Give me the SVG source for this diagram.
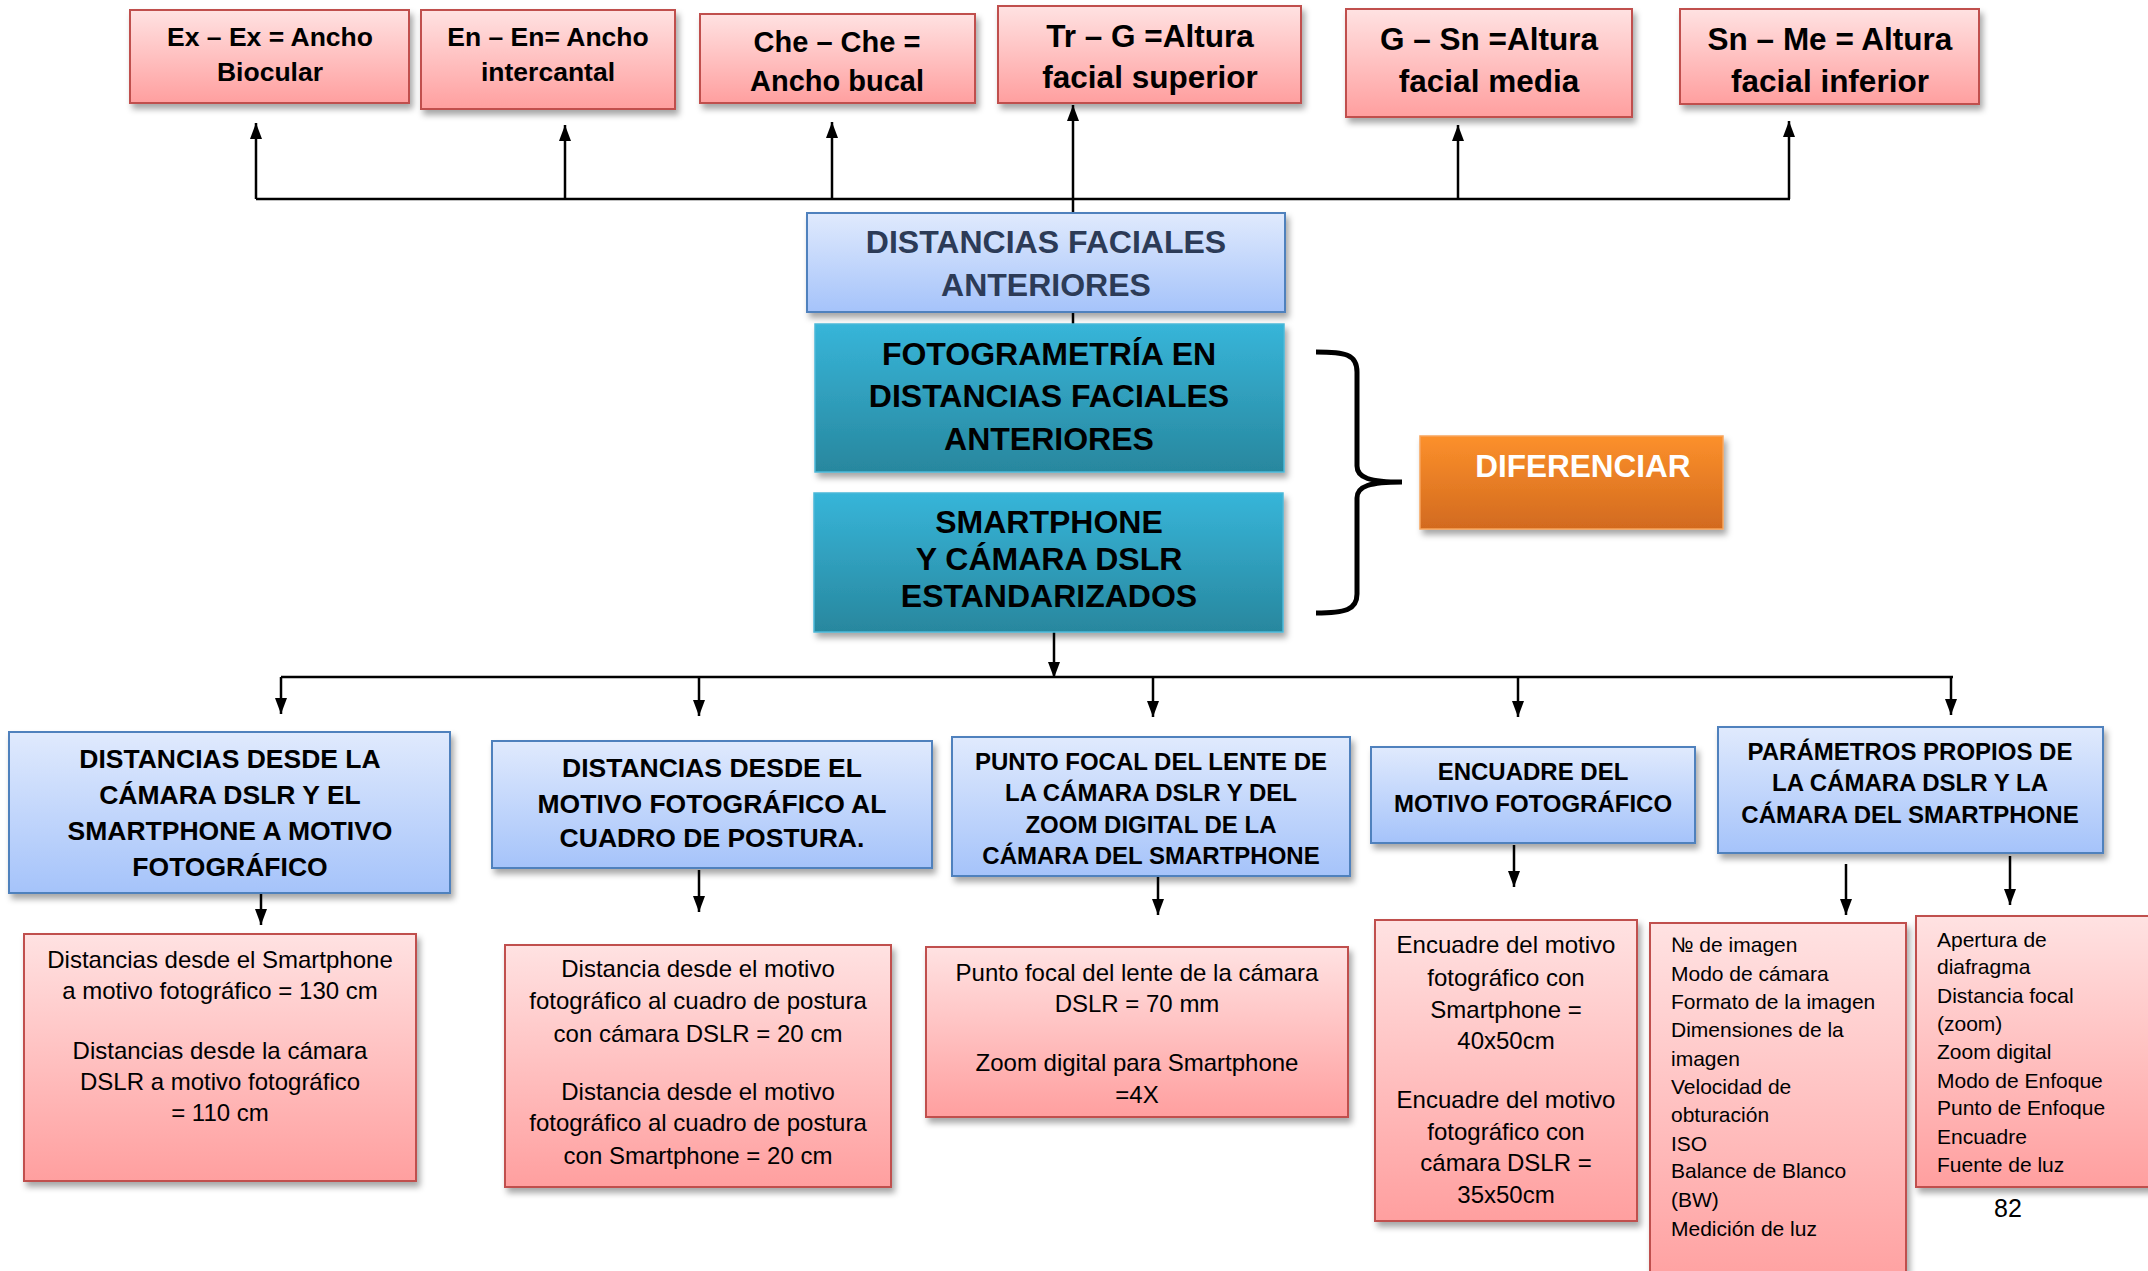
<svg xmlns="http://www.w3.org/2000/svg" width="2148" height="1271" viewBox="0 0 2148 1271">
<defs>
<linearGradient id="gPink" x1="0" y1="0" x2="0" y2="1"><stop offset="0" stop-color="#ffe2e2"/><stop offset="1" stop-color="#ff9f9f"/></linearGradient>
<linearGradient id="gBlue" x1="0" y1="0" x2="0" y2="1"><stop offset="0" stop-color="#e0eafd"/><stop offset="1" stop-color="#a5c3fa"/></linearGradient>
<linearGradient id="gTeal" x1="0" y1="0" x2="0" y2="1"><stop offset="0" stop-color="#37b5d9"/><stop offset="1" stop-color="#28879e"/></linearGradient>
<linearGradient id="gOr" x1="0" y1="0" x2="0" y2="1"><stop offset="0" stop-color="#fc902b"/><stop offset="1" stop-color="#d26a1f"/></linearGradient>
<filter id="sh" x="-10%" y="-10%" width="130%" height="140%"><feDropShadow dx="3" dy="5" stdDeviation="3" flood-color="#000" flood-opacity="0.35"/></filter>
<marker id="ah" markerUnits="userSpaceOnUse" markerWidth="16" markerHeight="12" refX="16" refY="6" orient="auto"><path d="M0,0 L16,6 L0,12 z" fill="#000"/></marker>
<style>
.pk{fill:url(#gPink);stroke:#c0504d;stroke-width:2;filter:url(#sh)}
.bl{fill:url(#gBlue);stroke:#4f81bd;stroke-width:2;filter:url(#sh)}
.tl{fill:url(#gTeal);stroke:#4bb8d8;stroke-width:1.5;filter:url(#sh)}
.or{fill:url(#gOr);stroke:#f7a45c;stroke-width:1.5;filter:url(#sh)}
text{font-family:"Liberation Sans",Arial,sans-serif;fill:#000}
.b{font-weight:bold;text-anchor:middle}
.c{text-anchor:middle}
.s1{font-size:26.5px}.s2{font-size:29px}.s3{font-size:31.5px}.s4{font-size:32px}.s5{font-size:24px}.s6{font-size:21px}
.cn{fill:none;stroke:#000;stroke-width:2.5}
.ar{marker-end:url(#ah)}
</style>
</defs>

<g id="connectors">
<path class="cn" stroke-width="3.5" d="M256,199 H1790"/>
<path class="cn ar" d="M256,199 V123"/>
<path class="cn ar" d="M565,199 V125"/>
<path class="cn ar" d="M832,199 V122"/>
<path class="cn ar" d="M1073,213 V105"/>
<path class="cn ar" d="M1458,199 V125"/>
<path class="cn ar" d="M1789,199 V121"/>
<path class="cn" d="M1073,312 V324"/>
<path class="cn ar" d="M1054,632 V678"/>
<path class="cn" stroke-width="3" d="M281,677 H1953"/>
<path class="cn ar" d="M281,677 V714"/>
<path class="cn ar" d="M699,677 V716"/>
<path class="cn ar" d="M1153,677 V717"/>
<path class="cn ar" d="M1518,677 V717"/>
<path class="cn ar" d="M1951,677 V715"/>
<path class="cn ar" d="M261,893 V925"/>
<path class="cn ar" d="M699,870 V912"/>
<path class="cn ar" d="M1158,876 V915"/>
<path class="cn ar" d="M1514,845 V887"/>
<path class="cn ar" d="M1846,864 V915"/>
<path class="cn ar" d="M2010,856 V905"/>
<path fill="none" stroke="#000" stroke-width="5" d="M1316,352 C1345,352 1357,354 1357,372 V466 C1357,478 1370,482 1402,482 C1370,482 1357,486 1357,498 V594 C1357,610 1345,613 1316,613"/>
</g>

<g id="n-exex"><rect class="pk" x="130" y="10" width="279" height="93"/>
<text class="b s1" x="270" y="46">Ex – Ex = Ancho</text><text class="b s1" x="270" y="81">Biocular</text></g>
<g id="n-enen"><rect class="pk" x="421" y="10" width="254" height="99"/>
<text class="b s1" x="548" y="46">En – En= Ancho</text><text class="b s1" x="548" y="81">intercantal</text></g>
<g id="n-cheche"><rect class="pk" x="700" y="14" width="275" height="89"/>
<text class="b s2" x="837" y="52">Che – Che =</text><text class="b s2" x="837" y="91">Ancho bucal</text></g>
<g id="n-trg"><rect class="pk" x="998" y="6" width="303" height="97"/>
<text class="b s3" x="1150" y="47">Tr – G =Altura</text><text class="b s3" x="1150" y="88">facial superior</text></g>
<g id="n-gsn"><rect class="pk" x="1346" y="9" width="286" height="108"/>
<text class="b s3" x="1489" y="50">G – Sn =Altura</text><text class="b s3" x="1489" y="92">facial media</text></g>
<g id="n-snme"><rect class="pk" x="1680" y="9" width="299" height="95"/>
<text class="b s3" x="1830" y="50">Sn – Me = Altura</text><text class="b s3" x="1830" y="92">facial inferior</text></g>

<g id="n-dfa"><rect class="bl" x="807" y="213" width="478" height="99"/>
<text class="b s4" x="1046" y="253" style="fill:#2c3b57">DISTANCIAS FACIALES</text><text class="b s4" x="1046" y="296" style="fill:#2c3b57">ANTERIORES</text></g>
<g id="n-foto"><rect class="tl" x="815" y="324" width="469" height="148"/>
<text class="b s4" x="1049" y="365">FOTOGRAMETRÍA EN</text><text class="b s4" x="1049" y="407">DISTANCIAS FACIALES</text><text class="b s4" x="1049" y="450">ANTERIORES</text></g>
<g id="n-smart"><rect class="tl" x="814" y="493" width="469" height="139"/>
<text class="b s4" x="1049" y="533">SMARTPHONE</text><text class="b s4" x="1049" y="570">Y CÁMARA DSLR</text><text class="b s4" x="1049" y="607">ESTANDARIZADOS</text></g>
<g id="n-dif"><rect class="or" x="1420" y="436" width="303" height="93"/>
<text class="b s3" x="1583" y="477" style="fill:#fff">DIFERENCIAR</text></g>

<g id="n-b1"><rect class="bl" x="9" y="732" width="441" height="161"/>
<text class="b s1" x="230" y="768">DISTANCIAS DESDE LA</text><text class="b s1" x="230" y="804">CÁMARA DSLR Y EL</text><text class="b s1" x="230" y="840">SMARTPHONE A MOTIVO</text><text class="b s1" x="230" y="876">FOTOGRÁFICO</text></g>
<g id="n-b2"><rect class="bl" x="492" y="741" width="440" height="127"/>
<text class="b s1" x="712" y="777">DISTANCIAS DESDE EL</text><text class="b s1" x="712" y="813">MOTIVO FOTOGRÁFICO AL</text><text class="b s1" x="712" y="847">CUADRO DE POSTURA.</text></g>
<g id="n-b3"><rect class="bl" x="952" y="737" width="398" height="139"/>
<text class="b s5" x="1151" y="770">PUNTO FOCAL DEL LENTE DE</text><text class="b s5" x="1151" y="801">LA CÁMARA DSLR Y DEL</text><text class="b s5" x="1151" y="833">ZOOM DIGITAL DE LA</text><text class="b s5" x="1151" y="864">CÁMARA DEL SMARTPHONE</text></g>
<g id="n-b4"><rect class="bl" x="1371" y="747" width="324" height="96"/>
<text class="b s5" x="1533" y="780">ENCUADRE DEL</text><text class="b s5" x="1533" y="812">MOTIVO FOTOGRÁFICO</text></g>
<g id="n-b5"><rect class="bl" x="1718" y="727" width="385" height="126"/>
<text class="b s5" x="1910" y="760">PARÁMETROS PROPIOS DE</text><text class="b s5" x="1910" y="791">LA CÁMARA DSLR Y LA</text><text class="b s5" x="1910" y="823">CÁMARA DEL SMARTPHONE</text></g>

<g id="n-p1"><rect class="pk" x="24" y="934" width="392" height="247"/>
<text class="c s5" x="220" y="968">Distancias desde el Smartphone</text><text class="c s5" x="220" y="999">a motivo fotográfico = 130 cm</text><text class="c s5" x="220" y="1059">Distancias desde la cámara</text><text class="c s5" x="220" y="1090">DSLR a motivo fotográfico</text><text class="c s5" x="220" y="1121">= 110 cm</text></g>
<g id="n-p2"><rect class="pk" x="505" y="945" width="386" height="242"/>
<text class="c s5" x="698" y="977">Distancia desde el motivo</text><text class="c s5" x="698" y="1009">fotográfico al cuadro de postura</text><text class="c s5" x="698" y="1042">con cámara DSLR = 20 cm</text><text class="c s5" x="698" y="1100">Distancia desde el motivo</text><text class="c s5" x="698" y="1131">fotográfico al cuadro de postura</text><text class="c s5" x="698" y="1164">con Smartphone = 20 cm</text></g>
<g id="n-p3"><rect class="pk" x="926" y="947" width="422" height="170"/>
<text class="c s5" x="1137" y="981">Punto focal del lente de la cámara</text><text class="c s5" x="1137" y="1012">DSLR = 70 mm</text><text class="c s5" x="1137" y="1071">Zoom digital para Smartphone</text><text class="c s5" x="1137" y="1103">=4X</text></g>
<g id="n-p4"><rect class="pk" x="1375" y="920" width="262" height="301"/>
<text class="c s5" x="1506" y="953">Encuadre del motivo</text><text class="c s5" x="1506" y="986">fotográfico con</text><text class="c s5" x="1506" y="1018">Smartphone =</text><text class="c s5" x="1506" y="1049">40x50cm</text><text class="c s5" x="1506" y="1108">Encuadre del motivo</text><text class="c s5" x="1506" y="1140">fotográfico con</text><text class="c s5" x="1506" y="1171">cámara DSLR =</text><text class="c s5" x="1506" y="1203">35x50cm</text></g>
<g id="n-p5"><rect class="pk" x="1650" y="923" width="256" height="370"/>
<text class="s6" x="1671" y="952">№ de imagen</text><text class="s6" x="1671" y="981">Modo de cámara</text><text class="s6" x="1671" y="1009">Formato de la imagen</text><text class="s6" x="1671" y="1037">Dimensiones de la</text><text class="s6" x="1671" y="1066">imagen</text><text class="s6" x="1671" y="1094">Velocidad de</text><text class="s6" x="1671" y="1122">obturación</text><text class="s6" x="1671" y="1151">ISO</text><text class="s6" x="1671" y="1178">Balance de Blanco</text><text class="s6" x="1671" y="1207">(BW)</text><text class="s6" x="1671" y="1236">Medición de luz</text></g>
<g id="n-p6"><rect class="pk" x="1916" y="916" width="260" height="271"/>
<text class="s6" x="1937" y="947">Apertura de</text><text class="s6" x="1937" y="974">diafragma</text><text class="s6" x="1937" y="1003">Distancia focal</text><text class="s6" x="1937" y="1031">(zoom)</text><text class="s6" x="1937" y="1059">Zoom digital</text><text class="s6" x="1937" y="1088">Modo de Enfoque</text><text class="s6" x="1937" y="1115">Punto de Enfoque</text><text class="s6" x="1937" y="1144">Encuadre</text><text class="s6" x="1937" y="1172">Fuente de luz</text></g>
<text class="c" x="2008" y="1217" style="font-size:25px">82</text>
</svg>
